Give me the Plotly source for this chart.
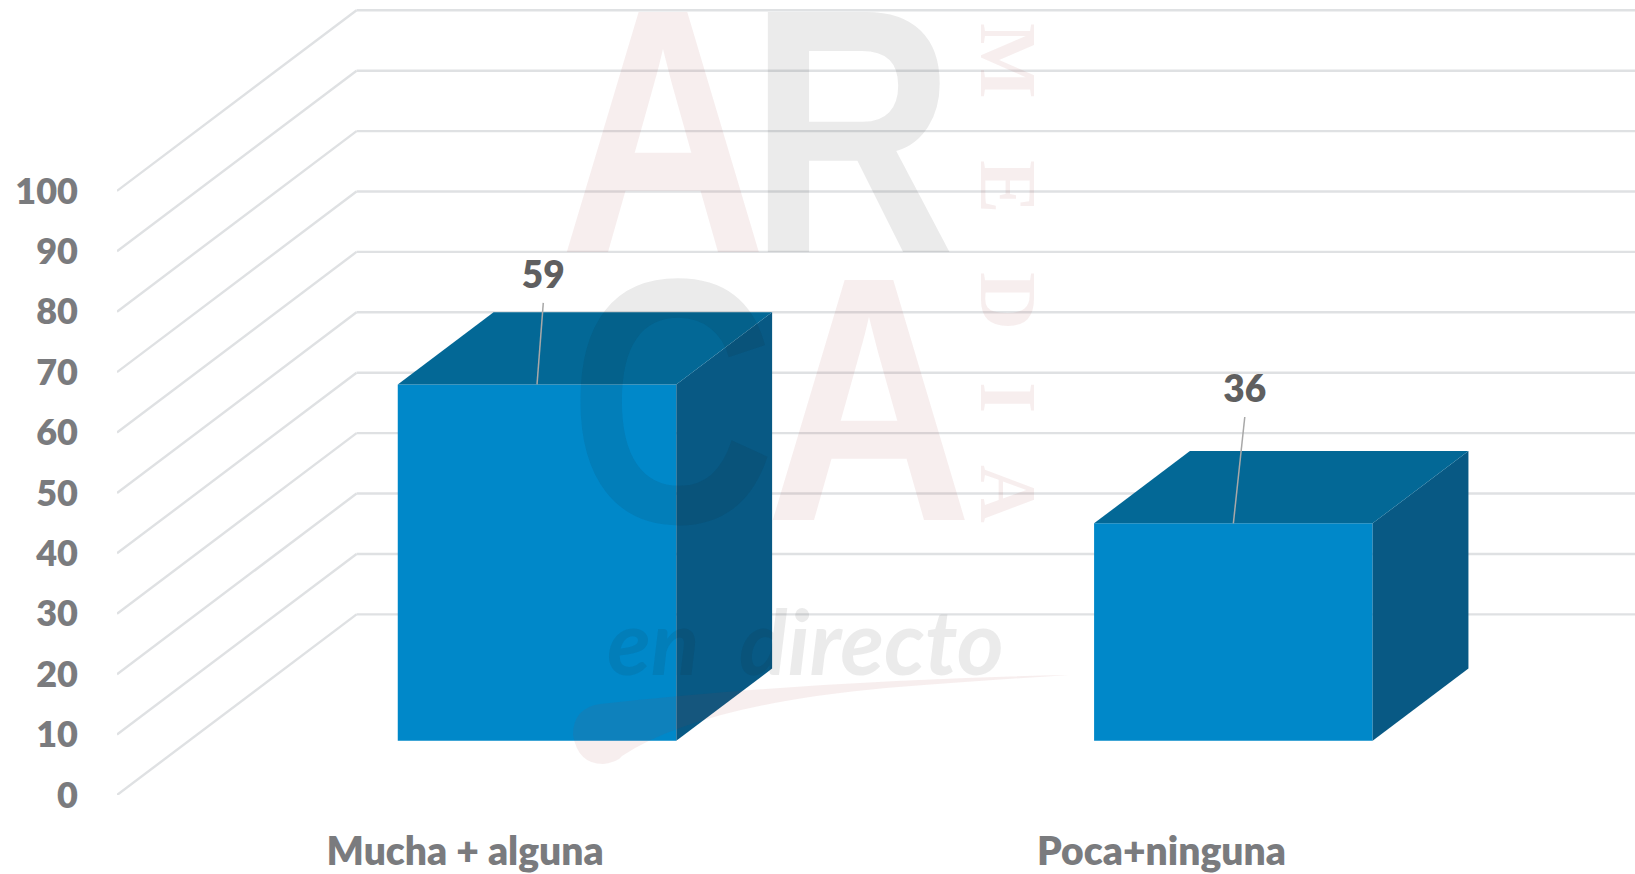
import plotly.graph_objects as go

# --- data ---
categories = ["Mucha + alguna", "Poca+ninguna"]
values = [59, 36]
tick_values = [0, 10, 20, 30, 40, 50, 60, 70, 80, 90, 100]

# --- page geometry ---
W, H = 1635, 874
M_L, M_R, M_T, M_B = 117, 0, 0, 79
PW, PH = W - M_L - M_R, H - M_T - M_B
X_RANGE = [-0.5, 1.68]
Y_RANGE = [0, 131.6]
DEPTH_X, DEPTH_Y = 0.344, 29.9      # oblique projection of the floor depth
BAR_W, BAR_NEAR, BAR_FAR = 0.4, 0.3, 0.7
LABEL_FONT = "Lato, Carlito, Calibri, sans-serif"
TEXT_WEIGHT = 800

FRONT, TOP, SIDE = "#0088C9", "#036896", "#085984"
GRID, TICKTXT, LABELTXT, LEADER = "#DFE1E3", "#7A7B7E", "#5F5F60", "#A8A8A8"
PINK, GREY = "rgba(165,60,60,0.085)", "rgba(25,25,25,0.085)"


def px(x, y):
    return dict(x=(x - M_L) / PW, y=1 - (y - M_T) / PH, xref="paper", yref="paper")


fig = go.Figure()

# walls: oblique grid lines, kept beneath the bars
grid_shapes = []
for v in tick_values:
    xs = [X_RANGE[0], X_RANGE[0] + DEPTH_X, X_RANGE[1]]
    ys = [v, v + DEPTH_Y, v + DEPTH_Y]
    for j in range(2):
        grid_shapes.append(dict(type="line", xref="x", yref="y", x0=xs[j], y0=ys[j], x1=xs[j + 1], y1=ys[j + 1],
                                line=dict(color=GRID, width=2.4), layer="below"))

# bar front faces
fig.add_trace(go.Bar(
    x=[i + BAR_NEAR * DEPTH_X for i in range(len(values))],
    y=values, base=BAR_NEAR * DEPTH_Y, width=BAR_W,
    marker=dict(color=FRONT, line=dict(width=0)),
    hoverinfo="skip", showlegend=False))

# bar top and side faces + leader lines + labels
label_shift_x = [0.009, 0.0164]
label_shift_y = [13.5, 17.6]
label_gap_y = 3.95
for i, v in enumerate(values):
    x0 = i + BAR_NEAR * DEPTH_X - BAR_W / 2
    x1 = x0 + BAR_W
    base = BAR_NEAR * DEPTH_Y
    top = base + v
    dx = (BAR_FAR - BAR_NEAR) * DEPTH_X
    dy = (BAR_FAR - BAR_NEAR) * DEPTH_Y
    fig.add_trace(go.Scatter(
        x=[x1, x1 + dx, x1 + dx, x1, x1], y=[base, base + dy, top + dy, top, base],
        mode="lines", fill="toself", fillcolor=SIDE, line=dict(width=0, color=SIDE),
        hoverinfo="skip", showlegend=False))
    fig.add_trace(go.Scatter(
        x=[x0, x0 + dx, x1 + dx, x1, x0], y=[top, top + dy, top + dy, top, top],
        mode="lines", fill="toself", fillcolor=TOP, line=dict(width=0, color=TOP),
        hoverinfo="skip", showlegend=False))
    cx = (x0 + x1) / 2
    fig.add_trace(go.Scatter(
        x=[cx, cx + label_shift_x[i]], y=[top, top + label_shift_y[i]],
        mode="lines", line=dict(color=LEADER, width=1.5),
        hoverinfo="skip", showlegend=False))
    fig.add_trace(go.Scatter(
        x=[cx + label_shift_x[i]], y=[top + label_shift_y[i] + label_gap_y],
        mode="text", text=[str(v)],
        textfont=dict(family=LABEL_FONT, size=37, color=LABELTXT, weight=TEXT_WEIGHT),
        textposition="middle center", hoverinfo="skip", showlegend=False))

# watermark: real text, in the logo's place
LOGO = "'Liberation Sans', sans-serif"
annots = []
for ch, x, y, size, col in [("A", 663, 131, 349, PINK), ("R", 852, 131, 349, GREY),
                            ("C", 672, 401, 349, GREY), ("A", 869, 399, 349, PINK)]:
    annots.append(dict(text=ch, **px(x, y), xanchor="center", yanchor="middle", showarrow=False,
                       font=dict(family=LOGO, size=size, color=col, weight="bold")))
for ch, y in [("M", 61), ("E", 186), ("D", 301), ("I", 397), ("A", 494)]:
    annots.append(dict(text=ch, **px(1008, y), xanchor="center", yanchor="middle", showarrow=False,
                       textangle=90,
                       font=dict(family="'Liberation Serif', serif", size=80, color=PINK, weight="bold")))
annots.append(dict(text="en  directo", **px(805, 640), xanchor="center", yanchor="middle", showarrow=False,
                   font=dict(family=LABEL_FONT, size=90, color=GREY, style="italic", weight="bold")))

# swoosh under the script line
sx = lambda x: (x - M_L) / PW
sy = lambda y: 1 - (y - M_T) / PH
swoosh = (f"M {sx(1069)} {sy(675)} "
          f"Q {sx(820)} {sy(680)} {sx(600)} {sy(704)} "
          f"Q {sx(573)} {sy(708)} {sx(573)} {sy(735)} "
          f"Q {sx(578)} {sy(764)} {sx(603)} {sy(764)} "
          f"Q {sx(618)} {sy(762)} {sx(622)} {sy(756)} "
          f"Q {sx(700)} {sy(705)} {sx(886)} {sy(688)} "
          f"Q {sx(990)} {sy(680)} {sx(1069)} {sy(675)} Z")

fig.update_layout(
    width=W, height=H, margin=dict(l=M_L, r=M_R, t=M_T, b=M_B, autoexpand=False),
    plot_bgcolor="white", paper_bgcolor="white", showlegend=False,
    annotations=annots,
    shapes=grid_shapes + [dict(type="path", path=swoosh, xref="paper", yref="paper",
                               fillcolor=PINK, line=dict(width=0), layer="above")],
    xaxis=dict(range=X_RANGE, tickmode="array", tickvals=list(range(len(categories))),
               ticktext=categories, showgrid=False, zeroline=False, showline=False,
               ticks="", ticklabelstandoff=30,
               tickfont=dict(family=LABEL_FONT, size=39, color=TICKTXT, weight=TEXT_WEIGHT)),
    yaxis=dict(range=Y_RANGE, tickmode="array", tickvals=tick_values, showgrid=False,
               zeroline=False, showline=False, ticks="", ticklabelstandoff=38,
               tickfont=dict(family=LABEL_FONT, size=36, color=TICKTXT, weight=TEXT_WEIGHT)),
)

# narrow the large logo letters to the logo's proportions
narrow = """
document.body.style.margin='0';
document.querySelectorAll('.annotation-text').forEach(function(t){
  if (parseFloat(t.style.fontSize) > 300) {
    t.style.transformBox='fill-box'; t.style.transformOrigin='center'; t.style.transform='scaleX(0.82)';
  }
});
"""
fig.write_html("out.html", config={"displayModeBar": False}, post_script=narrow)
